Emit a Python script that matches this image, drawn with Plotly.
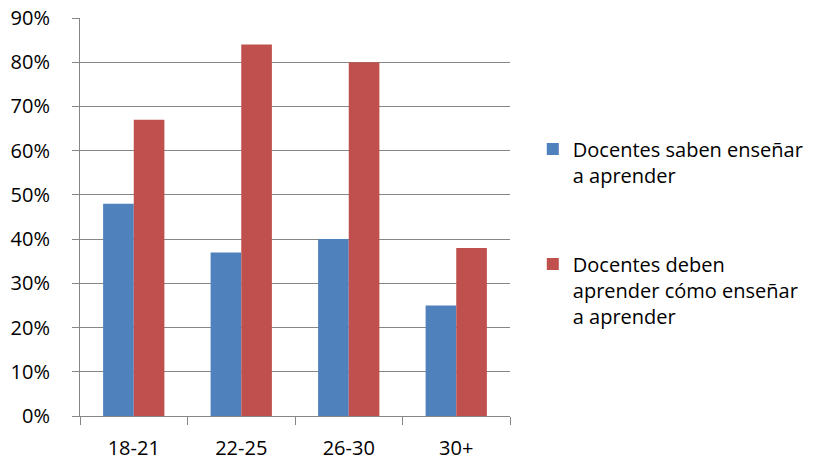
import plotly.graph_objects as go

# Age groups and the share of respondents for each statement
age_groups = ["18-21", "22-25", "26-30", "30+"]
saben_ensenar = [48, 37, 40, 25]
deben_aprender = [67, 84, 80, 38]

series_names = [
    "Docentes saben enseñar<br>a aprender",
    "Docentes deben<br>aprender cómo enseñar<br>a aprender",
]
y_ticks = [0, 10, 20, 30, 40, 50, 60, 70, 80, 90]
y_tick_labels = [f"{v}%" for v in y_ticks]

FONT = "Open Sans"
GRID = "#868686"

fig = go.Figure()
fig.add_trace(go.Bar(
    x=age_groups, y=saben_ensenar, name=series_names[0],
    marker=dict(color="#4F81BD", line=dict(width=0)),
    legendgroup="a",
))
fig.add_trace(go.Bar(
    x=age_groups, y=deben_aprender, name=series_names[1],
    marker=dict(color="#C0504D", line=dict(width=0)),
    legendgroup="b",
))

fig.update_layout(
    width=825, height=461,
    margin=dict(l=80, r=315, t=18, b=45, autoexpand=False),
    paper_bgcolor="white", plot_bgcolor="white",
    font=dict(family=FONT, size=20, color="#000000"),
    barmode="group", bargap=0.43, bargroupgap=0,
    showlegend=True,
    legend=dict(
        x=1.053, xanchor="left", y=0.72, yanchor="top",
        valign="top", tracegroupgap=60,
        font=dict(family=FONT, size=20, color="#000000"),
        bgcolor="rgba(0,0,0,0)",
    ),
    xaxis=dict(
        showgrid=False, showline=True, linecolor=GRID, linewidth=1,
        ticks="outside", tickson="boundaries", ticklen=8, tickcolor=GRID,
        ticklabelstandoff=14,
        tickfont=dict(family=FONT, size=20), automargin=False,
    ),
    yaxis=dict(
        range=[0, 90], tickmode="array", tickvals=y_ticks, ticktext=y_tick_labels,
        showgrid=True, gridcolor=GRID, gridwidth=1,
        showline=True, linecolor=GRID, linewidth=1,
        ticks="outside", ticklen=7, tickcolor=GRID,
        ticklabelstandoff=18, zeroline=False, automargin=False,
        tickfont=dict(family=FONT, size=20),
    ),
)

fig.write_html("out.html")
